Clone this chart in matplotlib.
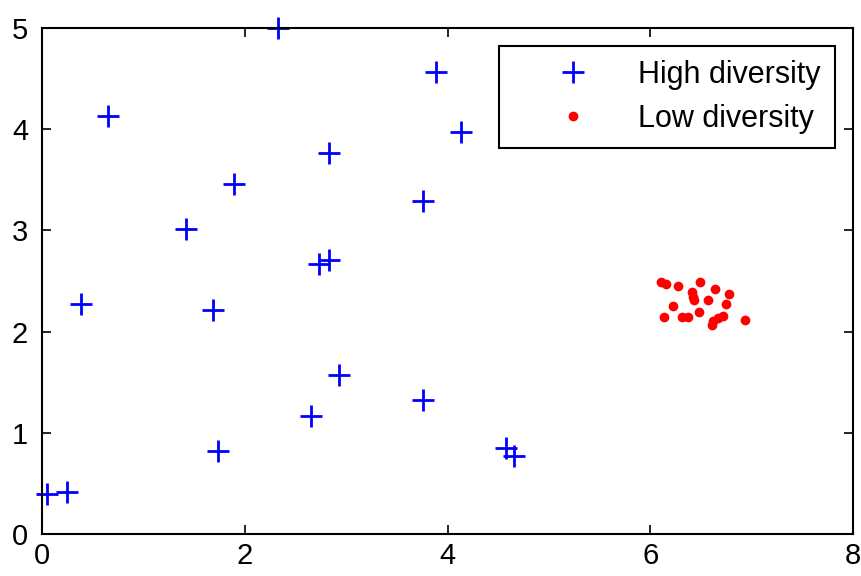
import matplotlib
matplotlib.use("Agg")
import matplotlib.pyplot as plt

high_x = [2.33, 3.89, 0.65, 4.13, 2.83, 1.89, 3.76, 1.42, 2.73, 2.83,
          0.38, 1.69, 2.93, 2.65, 3.76, 1.74, 4.58, 4.66, 0.05, 0.25]
high_y = [5.00, 4.57, 4.13, 3.97, 3.76, 3.46, 3.29, 3.01, 2.67, 2.71,
          2.27, 2.21, 1.57, 1.17, 1.32, 0.82, 0.85, 0.77, 0.40, 0.42]

low_x = [6.11, 6.16, 6.27, 6.49, 6.41, 6.64, 6.78, 6.43, 6.57, 6.22,
         6.75, 6.42, 6.48, 6.14, 6.31, 6.37, 6.62, 6.67, 6.72, 6.93, 6.61]
low_y = [2.49, 2.47, 2.45, 2.49, 2.39, 2.42, 2.37, 2.31, 2.31, 2.25,
         2.27, 2.34, 2.19, 2.14, 2.14, 2.14, 2.10, 2.13, 2.15, 2.11, 2.07]

x_ticks = [0, 2, 4, 6, 8]
y_ticks = [0, 1, 2, 3, 4, 5]
labels = ["High diversity", "Low diversity"]

plt.rcParams['font.family'] = ['Liberation Sans', 'DejaVu Sans']

fig = plt.figure(figsize=(8.61, 5.76), dpi=100)
ax = fig.add_axes([0.0488, 0.0729, 0.9419, 0.8785])

ax.plot(high_x, high_y, linestyle='none', marker='+', markersize=16,
        markeredgewidth=2.0, color='#0000ff', label=labels[0], clip_on=False)
ax.plot(low_x, low_y, linestyle='none', marker='o', markersize=7,
        markeredgewidth=0, color='#ff0000', label=labels[1])

ax.set_xlim(0, 8)
ax.set_ylim(0, 5)
ax.set_xticks(x_ticks)
ax.set_yticks(y_ticks)
ax.tick_params(direction='in', length=6.5, width=1.2, top=True, right=True,
               labelsize=21)
ax.tick_params(axis='x', pad=6)
ax.tick_params(axis='y', pad=10)
for s in ax.spines.values():
    s.set_linewidth(1.5)

leg = ax.legend(loc='upper right', fontsize=22, frameon=True, fancybox=False,
                edgecolor='black', framealpha=1, borderaxespad=0.6,
                handlelength=3.9, handletextpad=0.2, borderpad=0.45,
                labelspacing=0.45, numpoints=1)
leg.get_frame().set_linewidth(1.5)

fig.savefig("out.png", dpi=100)
